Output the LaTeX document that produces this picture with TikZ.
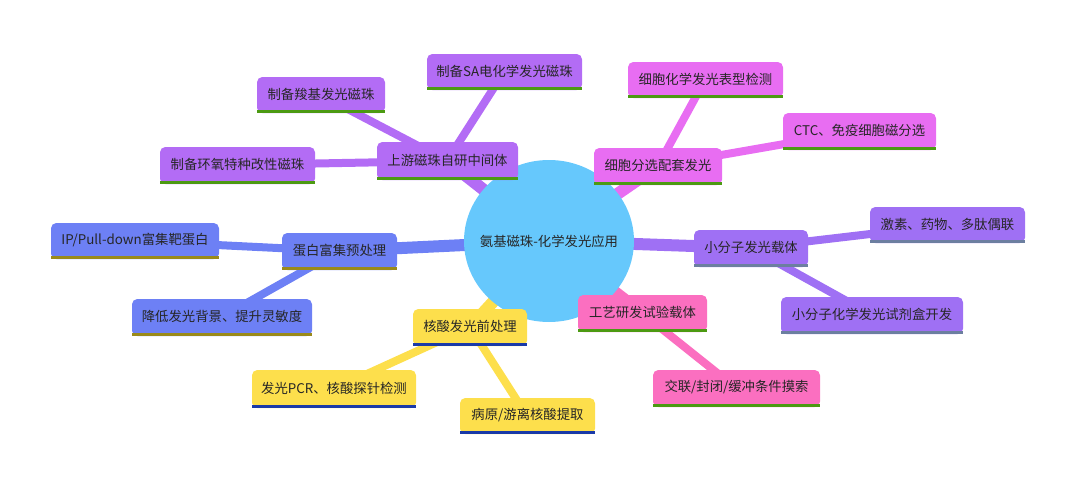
\documentclass[tikz,border=0pt]{standalone}
\usepackage{fontspec}
\newfontfamily\cjk{Noto Sans CJK SC}
\begin{document}
\begin{tikzpicture}[x=0.02cm,y=-0.02cm,
  box/.style={rounded corners=2pt,inner sep=0pt},
  lbl/.style={font=\cjk\fontsize{7.6}{9}\selectfont,text=black!85},
  ln/.style={line width=#1*0.02cm,line cap=round}]
\definecolor{purp}{HTML}{B36CF5}
\definecolor{mag}{HTML}{E86DF2}
\definecolor{vio}{HTML}{9F70F4}
\definecolor{blu}{HTML}{6D80F5}
\definecolor{yel}{HTML}{FDDF4C}
\definecolor{pnk}{HTML}{FB6FC0}
\definecolor{grn}{HTML}{4C9A12}
\definecolor{gbl}{HTML}{6C7FA0}
\definecolor{olv}{HTML}{9A8A1A}
\definecolor{dbl}{HTML}{1A3AA8}
\definecolor{cen}{HTML}{66C8FC}
\useasboundingbox (0,0) rectangle (1080,487);
% box macro: name, x1,y1,x2,y2, fill, underline, text
\newcommand\bx[8]{%
  \fill[#6,rounded corners=3pt] (#2,#3) rectangle (#4,#5);
  \fill[#7] (#2,#5-3) rectangle (#4,#5);
  \node[lbl] (#1) at ({(#2+#4)/2},{(#3+#5)/2-1}) {#8};
}
% coordinates of box centres
\coordinate (C) at (549,241);
\coordinate (p0) at (447,161); \coordinate (p1) at (321,95); \coordinate (p2) at (504,72); \coordinate (p3) at (237,165);
\coordinate (m0) at (658,166); \coordinate (m1) at (705,80); \coordinate (m2) at (859,131);
\coordinate (v0) at (751,248); \coordinate (v1) at (947,225); \coordinate (v2) at (872,315);
\coordinate (b0) at (339,251); \coordinate (b1) at (135,241); \coordinate (b2) at (222,317);
\coordinate (y0) at (470,327); \coordinate (y1) at (334,389); \coordinate (y2) at (527,416);
\coordinate (k0) at (642,313); \coordinate (k1) at (736,388);
% connectors
\draw[ln=12,purp] (C) -- (p0); \draw[ln=8,purp] (p0) -- (p1); \draw[ln=8,purp] (p0) -- (p2); \draw[ln=8,purp] (p0) -- (p3);
\draw[ln=12,mag] (C) -- (m0); \draw[ln=8,mag] (m0) -- (m1); \draw[ln=8,mag] (m0) -- (m2);
\draw[ln=12,vio] (C) -- (v0); \draw[ln=8,vio] (v0) -- (v1); \draw[ln=8,vio] (v0) -- (v2);
\draw[ln=12,blu] (C) -- (b0); \draw[ln=8,blu] (b0) -- (b1); \draw[ln=8,blu] (b0) -- (b2);
\draw[ln=12,yel] (C) -- (y0); \draw[ln=8,yel] (y0) -- (y1); \draw[ln=8,yel] (y0) -- (y2);
\draw[ln=12,pnk] (C) -- (k0); \draw[ln=8,pnk] (k0) -- (k1);
% centre
\fill[cen] (C) ellipse [x radius=85,y radius=81];
\node[lbl] (c) at (C) {氨基磁珠-化学发光应用};
% boxes
\bx{n1}{377}{142}{518}{180}{purp}{grn}{上游磁珠自研中间体}
\bx{n2}{257}{77}{385}{113}{purp}{grn}{制备羧基发光磁珠}
\bx{n3}{427}{54}{582}{90}{purp}{grn}{制备SA电化学发光磁珠}
\bx{n4}{160}{147}{315}{184}{purp}{grn}{制备环氧特种改性磁珠}
\bx{n5}{594}{148}{722}{185}{mag}{grn}{细胞分选配套发光}
\bx{n6}{628}{62}{783}{98}{mag}{grn}{细胞化学发光表型检测}
\bx{n7}{783}{113}{936}{150}{mag}{grn}{CTC、免疫细胞磁分选}
\bx{n8}{694}{230}{808}{267}{vio}{gbl}{小分子发光载体}
\bx{n9}{870}{207}{1025}{243}{vio}{gbl}{激素、药物、多肽偶联}
\bx{n10}{781}{297}{963}{334}{vio}{gbl}{小分子化学发光试剂盒开发}
\bx{n11}{282}{233}{397}{270}{blu}{olv}{蛋白富集预处理}
\bx{n12}{51}{223}{219}{259}{blu}{olv}{IP/Pull-down富集靶蛋白}
\bx{n13}{132}{299}{312}{336}{blu}{olv}{降低发光背景、提升灵敏度}
\bx{n14}{413}{309}{527}{346}{yel}{dbl}{核酸发光前处理}
\bx{n15}{252}{370}{416}{408}{yel}{dbl}{发光PCR、核酸探针检测}
\bx{n16}{460}{398}{595}{434}{yel}{dbl}{病原/游离核酸提取}
\bx{n17}{578}{295}{707}{332}{pnk}{grn}{工艺研发试验载体}
\bx{n18}{653}{370}{820}{407}{pnk}{grn}{交联/封闭/缓冲条件摸索}
\end{tikzpicture}
\end{document}
